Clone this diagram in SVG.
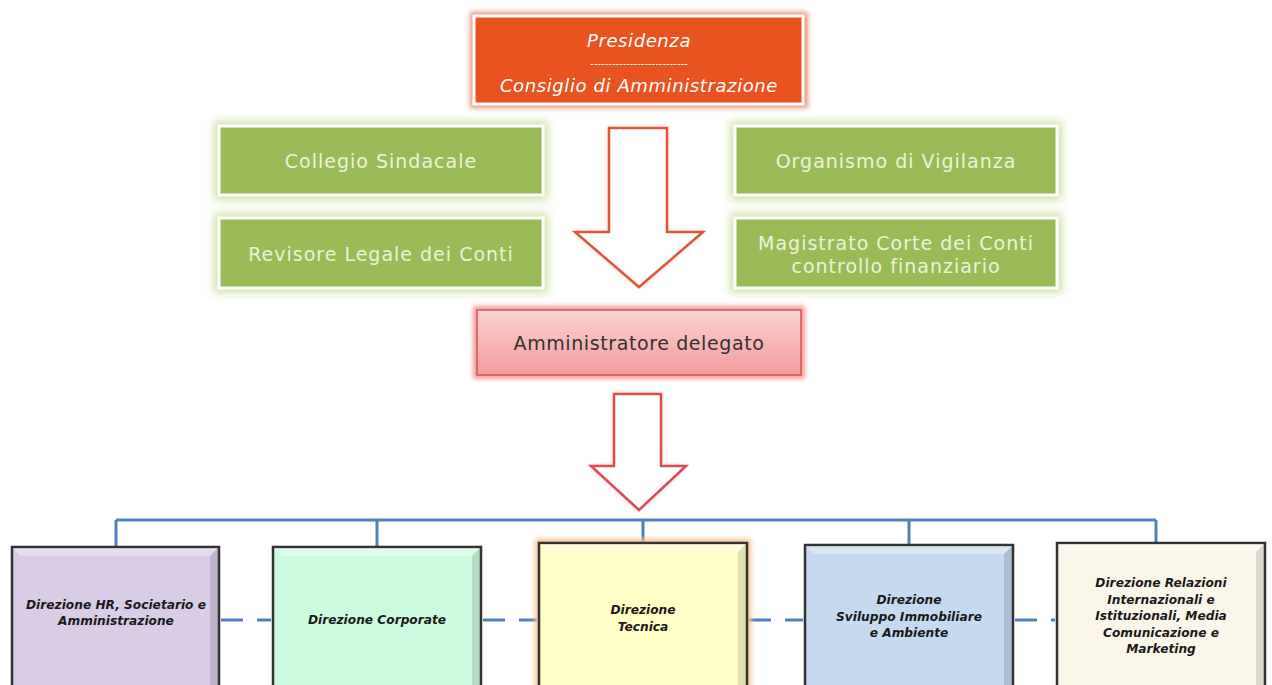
<svg xmlns="http://www.w3.org/2000/svg" width="1272" height="685" viewBox="0 0 1272 685">
<defs>
<filter id="blur" x="-20%" y="-20%" width="140%" height="140%"><feGaussianBlur stdDeviation="4"/></filter>
<filter id="blur2" x="-20%" y="-20%" width="140%" height="140%"><feGaussianBlur stdDeviation="2.5"/></filter>
<linearGradient id="pink" x1="0" y1="0" x2="0" y2="1"><stop offset="0" stop-color="#FBD3D3"/><stop offset="1" stop-color="#F39B9B"/></linearGradient>
<style>
.top{font-family:"DejaVu Sans",sans-serif;fill:#fff;text-anchor:middle;}
.grn{font-family:"DejaVu Sans",sans-serif;fill:#EAF3D9;font-size:19px;letter-spacing:1px;text-anchor:middle;}
.bt{font-family:"DejaVu Sans",sans-serif;font-weight:bold;font-style:italic;font-size:12.2px;fill:#1a1a1a;text-anchor:middle;}
.gbox{fill:#9BBB59;stroke:#fff;stroke-width:3;}
.gglow{fill:#CFE3A6;filter:url(#blur);}
.conn{stroke:#4F81BD;stroke-width:3;fill:none;}
.dash{stroke:#4F81BD;stroke-width:3;fill:none;stroke-dasharray:22 14;}
.bx{stroke:#333;stroke-width:2.5;}
.bev{fill:#fff;opacity:0.35;}
.bevd{fill:#000;opacity:0.12;}
</style>
</defs>
<rect width="1272" height="685" fill="#fff"/>

<g id="connectors">
<path class="conn" d="M116 520 H1156 M116 520 V547 M377 520 V547 M643 520 V543 M909 520 V545 M1156 520 V543"/>
<path class="dash" d="M221 620 H271 M483 620 H537 M749 620 H803 M1015 620 H1055"/>
</g>

<g id="presidenza">
<rect x="470" y="12" width="338" height="96" fill="#E9967A" filter="url(#blur2)"/>
<rect x="474" y="16" width="329" height="88" fill="#E8531F" stroke="#fff" stroke-width="3"/>
<text class="top" x="639" y="47" font-size="18" font-style="italic" letter-spacing="0.6">Presidenza</text>
<text class="top" x="639" y="67" font-size="10">---------------------------</text>
<text class="top" x="639" y="92" font-size="18" font-style="italic" letter-spacing="0.6">Consiglio di Amministrazione</text>
</g>

<g id="collegio">
<rect class="gglow" x="214" y="121" width="334" height="79"/>
<rect class="gbox" x="219" y="126" width="324" height="69"/>
<text class="grn" x="381" y="168">Collegio Sindacale</text>
</g>
<g id="revisore">
<rect class="gglow" x="214" y="213" width="334" height="80"/>
<rect class="gbox" x="219" y="218" width="324" height="70"/>
<text class="grn" x="381" y="261">Revisore Legale dei Conti</text>
</g>
<g id="organismo">
<rect class="gglow" x="730" y="121" width="332" height="79"/>
<rect class="gbox" x="735" y="126" width="322" height="69"/>
<text class="grn" x="896" y="168">Organismo di Vigilanza</text>
</g>
<g id="magistrato">
<rect class="gglow" x="730" y="213" width="332" height="80"/>
<rect class="gbox" x="735" y="218" width="322" height="70"/>
<text class="grn" x="896" y="250">Magistrato Corte dei Conti</text>
<text class="grn" x="896" y="273">controllo finanziario</text>
</g>

<g id="arrow1">
<path d="M609 128 H667 V232 H703 L639 287 L575 232 H609 Z" fill="#F6B9A8" filter="url(#blur2)"/>
<path d="M609 128 H667 V232 H703 L639 287 L575 232 H609 Z" fill="#fff" stroke="#E0553A" stroke-width="2.5"/>
</g>

<g id="amministratore">
<rect x="473" y="306" width="332" height="73" fill="#F19A9A" filter="url(#blur2)"/>
<rect x="477" y="310" width="324" height="65" fill="url(#pink)" stroke="#D9534F" stroke-width="1.5"/>
<text x="639" y="350" font-family="DejaVu Sans, sans-serif" font-size="19" letter-spacing="0.6" fill="#333" text-anchor="middle">Amministratore delegato</text>
</g>

<g id="arrow2">
<path d="M614 394 H661 V466 H686 L639 510 L591 466 H614 Z" fill="#F3A3A3" filter="url(#blur2)"/>
<path d="M614 394 H661 V466 H686 L639 510 L591 466 H614 Z" fill="#fff" stroke="#D94F4F" stroke-width="2.5"/>
</g>

<g id="dir-hr">
<rect class="bx" x="12" y="547" width="207" height="145" fill="#D9CCE6"/>
<path class="bev" d="M13 548 H218 L210 556 H21 Z"/>
<path class="bevd" d="M218 548 V692 H210 V556 Z"/>
<text class="bt" x="116" y="609">Direzione HR, Societario e</text>
<text class="bt" x="116" y="625">Amministrazione</text>
</g>
<g id="dir-corporate">
<rect class="bx" x="273" y="547" width="208" height="145" fill="#CCFCDF"/>
<path class="bev" d="M274 548 H480 L472 556 H282 Z"/>
<path class="bevd" d="M480 548 V692 H472 V556 Z"/>
<text class="bt" x="377" y="624">Direzione Corporate</text>
</g>
<g id="dir-tecnica">
<rect x="535" y="539" width="216" height="153" fill="#F7C48F" filter="url(#blur2)"/>
<rect class="bx" x="539" y="543" width="208" height="149" fill="#FFFFC6"/>
<path class="bev" d="M540 544 H746 L738 552 H548 Z"/>
<path class="bevd" d="M746 544 V692 H738 V552 Z"/>
<text class="bt" x="643" y="614">Direzione</text>
<text class="bt" x="643" y="631">Tecnica</text>
</g>
<g id="dir-sviluppo">
<rect class="bx" x="805" y="545" width="208" height="147" fill="#C5D9F1"/>
<path class="bev" d="M806 546 H1012 L1004 554 H814 Z"/>
<path class="bevd" d="M1012 546 V692 H1004 V554 Z"/>
<text class="bt" x="909" y="604">Direzione</text>
<text class="bt" x="909" y="621">Sviluppo Immobiliare</text>
<text class="bt" x="909" y="637">e Ambiente</text>
</g>
<g id="dir-relazioni">
<rect class="bx" x="1057" y="543" width="208" height="149" fill="#FAF7EA"/>
<path class="bev" d="M1058 544 H1264 L1256 552 H1066 Z"/>
<path class="bevd" d="M1264 544 V692 H1256 V552 Z"/>
<text class="bt" x="1161" y="587">Direzione Relazioni</text>
<text class="bt" x="1161" y="604">Internazionali e</text>
<text class="bt" x="1161" y="620">Istituzionali, Media</text>
<text class="bt" x="1161" y="637">Comunicazione e</text>
<text class="bt" x="1161" y="653">Marketing</text>
</g>
</svg>
